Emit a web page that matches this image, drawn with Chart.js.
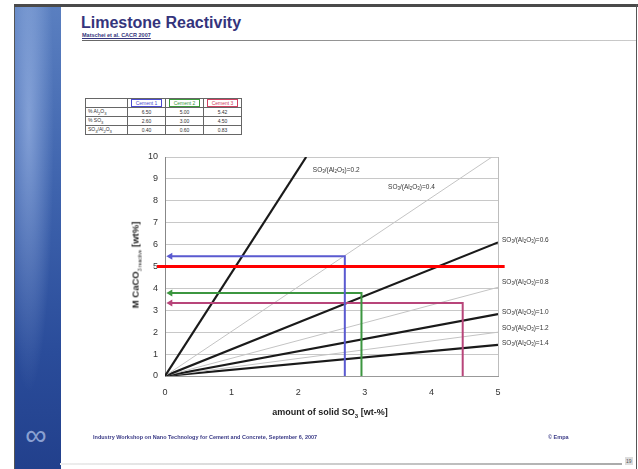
<!DOCTYPE html>
<html lang="en">
<head>
    <meta charset="UTF-8">
    <title>Limestone Reactivity</title>
    <script src="https://cdn.jsdelivr.net/npm/chart.js"></script>
    <style>
        body {
            margin: 0;
            padding: 0;
            width: 638px;
            height: 469px;
            background-color: #ffffff;
            font-family: "Liberation Sans", Arial, sans-serif;
            position: relative;
            overflow: hidden;
        }
        #topbar {
            position: absolute;
            left: 14px; top: 4px;
            width: 624px; height: 3px;
            background-color: #4a4a4a;
        }
        #strip {
            position: absolute;
            left: 14px; top: 7px;
            width: 46px; height: 462px;
            border-left: 1px solid #555;
            background: radial-gradient(ellipse at 30% 25%, rgba(200,220,255,0.45), rgba(200,220,255,0) 55%),
                        linear-gradient(to bottom, #5a7fc0 0%, #3e63ad 40%, #2a4c9a 75%, #22408c 100%);
        }
        #logo {
            position: absolute;
            left: 16px; top: 418px;
            width: 40px;
            text-align: center;
            color: rgba(210,225,255,0.6);
            font-size: 30px;
        }
        #rightline {
            position: absolute;
            left: 636px; top: 4px;
            width: 1px; height: 465px;
            background-color: #555;
        }
        #title {
            position: absolute;
            left: 81px; top: 14px;
            font-size: 16px;
            font-weight: bold;
            color: #34347c;
        }
        #subtitle {
            position: absolute;
            left: 82px; top: 32px;
            font-size: 5.5px;
            font-weight: bold;
            color: #34347c;
            text-decoration: underline;
        }
        #titleline {
            position: absolute;
            left: 82px; top: 40px;
            width: 554px; height: 1px;
            background: linear-gradient(to right, #666, #ccc);
        }
        #cements {
            position: absolute;
            left: 85px; top: 98px;
            border-collapse: collapse;
            font-size: 5px;
            color: #333;
        }
        #cements td {
            border: 1px solid #666;
            text-align: center;
            padding: 0;
            height: 8px;
        }
        #cements td.name { width: 39px; text-align: left; padding-left: 2px; }
        #cements td.val { width: 37px; }
        #cements span { border: 1px solid; padding: 0 4px; }
        #chart {
            position: absolute;
            left: 0; top: 0;
        }
        #ytitle {
            position: absolute;
            left: 136px; top: 265px;
            transform: translate(-50%, -50%) rotate(-90deg);
            white-space: nowrap;
            font-size: 9.5px;
            font-weight: bold;
            color: #222;
        }
        #ytitle sub { font-size: 5px; font-weight: normal; }
        #xtitle {
            position: absolute;
            left: 330px; top: 413px;
            transform: translate(-50%, -50%);
            white-space: nowrap;
            font-size: 9px;
            font-weight: bold;
            color: #222;
        }
        #xtitle sub { font-size: 6px; }
        #footer {
            position: absolute;
            left: 93px; top: 434px;
            font-size: 5.5px;
            font-weight: bold;
            color: #3a3a86;
        }
        #copy {
            position: absolute;
            left: 548px; top: 434px;
            font-size: 5.5px;
            font-weight: bold;
            color: #3a3a86;
        }
        #bottomline {
            position: absolute;
            left: 60px; top: 463px;
            width: 562px; height: 2px;
            background: linear-gradient(to right, #eee, #aaa);
        }
        #page {
            position: absolute;
            left: 625px; top: 457px;
            font-size: 5px;
            color: #555;
            background: #ddd;
            padding: 1px;
        }
    </style>
</head>
<body>
    <div id="topbar"></div>
    <div id="strip"></div>
    <div id="logo">&#8734;</div>
    <div id="rightline"></div>
    <div id="title">Limestone Reactivity</div>
    <div id="subtitle">Matschei et al. CACR 2007</div>
    <div id="titleline"></div>

    <table id="cements">
        <tr>
            <td class="name"></td>
            <td class="val"><span style="color:#4a4ad0">Cement 1</span></td>
            <td class="val"><span style="color:#3a9a3a">Cement 2</span></td>
            <td class="val"><span style="color:#d04060">Cement 3</span></td>
        </tr>
        <tr><td class="name">% Al<sub>2</sub>O<sub>3</sub></td><td>6.50</td><td>5.00</td><td>5.42</td></tr>
        <tr><td class="name">% SO<sub>3</sub></td><td>2.60</td><td>3.00</td><td>4.50</td></tr>
        <tr><td class="name">SO<sub>3</sub>/Al<sub>2</sub>O<sub>3</sub></td><td>0.40</td><td>0.60</td><td>0.83</td></tr>
    </table>

    <canvas id="chart" width="638" height="469"></canvas>

    <div id="ytitle">M CaCO<sub>3 reactive</sub> [wt%]</div>
    <div id="xtitle">amount of solid SO<sub>3</sub> [wt-%]</div>
    <div id="footer">Industry Workshop on Nano Technology for Cement and Concrete, September 6, 2007</div>
    <div id="copy">&copy; Empa</div>
    <div id="bottomline"></div>
    <div id="page">19</div>

    <script>
        // SO3/Al2O3 ratio lines, all starting at the origin
        const ratioLabels = ['0.2', '0.4', '0.6', '0.8', '1.0', '1.2', '1.4'];
        const ratioEndX = [2.12, 4.91, 5, 5, 5, 5, 5];
        const ratioEndY = [10, 10, 6.1, 4.05, 2.83, 2.0, 1.42];
        const labelX = [2.22, 3.35, 5.06, 5.06, 5.06, 5.06, 5.06];
        const labelY = [9.4, 8.63, 6.2, 4.3, 2.92, 2.19, 1.5];

        // cement read-offs: SO3 content and reactive CaCO3
        const cementSO3 = [2.7, 2.95, 4.47];
        const cementCaCO3 = [5.47, 3.79, 3.33];
        const cementColors = ['#5a5ad0', '#3c9640', '#b8457a'];

        // limit line
        const limitY = 5;

        const xTicks = [0, 1, 2, 3, 4, 5];
        const yTicks = [0, 1, 2, 3, 4, 5, 6, 7, 8, 9, 10];

        const datasets = [];

        datasets.push({
            data: [{x: -0.12, y: limitY}, {x: 5.1, y: limitY}],
            borderColor: '#ff0000',
            borderWidth: 3,
            pointRadius: 0,
            clip: false,
            order: 0
        });

        cementSO3.forEach((so3, i) => {
            datasets.push({
                data: [{x: so3, y: 0}, {x: so3, y: cementCaCO3[i]}, {x: 0.08, y: cementCaCO3[i]}],
                borderColor: cementColors[i],
                backgroundColor: cementColors[i],
                borderWidth: 2,
                pointRadius: [0, 0, 4],
                pointStyle: 'triangle',
                rotation: -90,
                pointBorderWidth: 0,
                order: 1
            });
        });

        ratioLabels.forEach((lab, i) => {
            const thick = i % 2 === 0;
            datasets.push({
                data: [{x: 0, y: 0}, {x: ratioEndX[i], y: ratioEndY[i]}],
                borderColor: thick ? '#1a1a1a' : '#c4c4c4',
                borderWidth: thick ? 2.2 : 1,
                pointRadius: 0,
                order: 2
            });
        });

        // SO3/(Al2O3)=x labels with subscripts
        const lineLabels = {
            id: 'lineLabels',
            afterDatasetsDraw(chart) {
                const ctx = chart.ctx;
                const xs = chart.scales.x, ys = chart.scales.y;
                ctx.save();
                ctx.fillStyle = '#333';
                ctx.textBaseline = 'middle';
                ratioLabels.forEach((lab, i) => {
                    let px = xs.getPixelForValue(labelX[i]);
                    const py = ys.getPixelForValue(labelY[i]);
                    const parts = [['SO', 0], ['3', 1], ['/(Al', 0], ['2', 1], ['O', 0], ['3', 1], [')=' + lab, 0]];
                    parts.forEach(([t, sub]) => {
                        ctx.font = sub ? '4.5px "Liberation Sans", Arial' : '6.5px "Liberation Sans", Arial';
                        ctx.fillText(t, px, py + (sub ? 2 : 0));
                        px += ctx.measureText(t).width;
                    });
                });
                ctx.restore();
            }
        };

        new Chart(document.getElementById('chart'), {
            type: 'scatter',
            data: { datasets: datasets },
            options: {
                responsive: false,
                animation: false,
                showLine: true,
                layout: { padding: { left: 125, right: 140, top: 157, bottom: 60 } },
                plugins: {
                    legend: { display: false },
                    tooltip: { enabled: false }
                },
                scales: {
                    x: {
                        type: 'linear',
                        min: 0,
                        max: 5,
                        afterFit: s => { s.height = 33; },
                        afterBuildTicks: s => { s.ticks = xTicks.map(v => ({value: v})); },
                        ticks: {
                            padding: 11,
                            color: '#333',
                            font: { size: 9, family: '"Liberation Sans", Arial' }
                        },
                        grid: {
                            drawTicks: false,
                            color: c => c.tick && c.tick.value === 5 ? '#bdbdbd' : 'rgba(0,0,0,0)'
                        },
                        border: { color: '#999', width: 1 }
                    },
                    y: {
                        min: 0,
                        max: 10,
                        afterFit: s => { s.width = 40; },
                        afterBuildTicks: s => { s.ticks = yTicks.map(v => ({value: v})); },
                        ticks: {
                            padding: 7,
                            color: '#333',
                            font: { size: 9, family: '"Liberation Sans", Arial' }
                        },
                        grid: { drawTicks: false, color: '#c8c8c8' },
                        border: { color: '#888', width: 1 }
                    }
                }
            },
            plugins: [lineLabels]
        });
    </script>
</body>
</html>
